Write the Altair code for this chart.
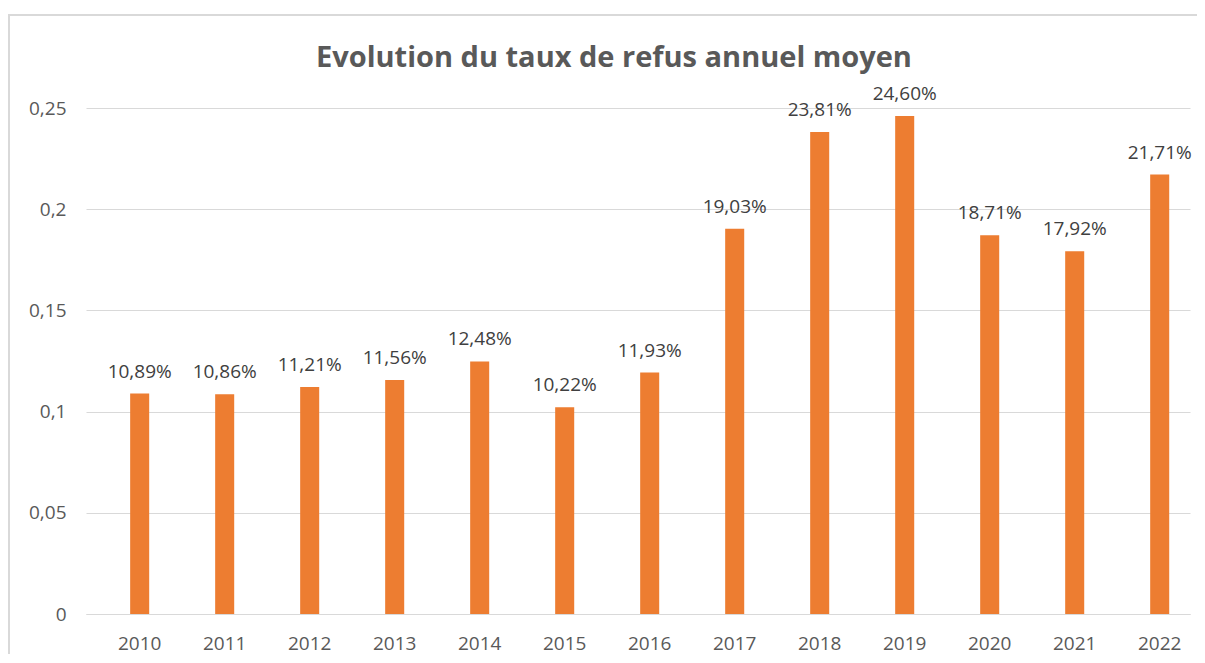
import altair as alt
import pandas as pd

years = ["2010", "2011", "2012", "2013", "2014", "2015", "2016",
         "2017", "2018", "2019", "2020", "2021", "2022"]
taux = [0.1089, 0.1086, 0.1121, 0.1156, 0.1248, 0.1022, 0.1193,
        0.1903, 0.2381, 0.2460, 0.1871, 0.1792, 0.2171]
y_ticks = [0, 0.05, 0.1, 0.15, 0.2, 0.25]

df = pd.DataFrame({"annee": years, "taux": taux})

W, H = 1104, 506
FONT = "Open Sans"

x_enc = alt.X(
    "annee:N",
    sort=years,
    title=None,
    scale=alt.Scale(paddingInner=0.776, paddingOuter=0.382, align=0.68),
    axis=alt.Axis(
        labelAngle=0, ticks=False, domain=True, domainColor="#d9d9d9",
        domainWidth=1, labelPadding=20, labelFontSize=19, labelColor="#595959",
        labelFont=FONT, grid=False,
    ),
)
y_enc = alt.Y(
    "taux:Q",
    title=None,
    scale=alt.Scale(domain=[0, 0.25], nice=False, zero=True),
    axis=alt.Axis(
        values=y_ticks, ticks=False, domain=False, grid=True,
        gridColor="#d9d9d9", gridWidth=1, labelPadding=20,
        labelFontSize=19, labelColor="#595959", labelFont=FONT,
        labelExpr="replace(format(datum.value, '.2~f'), '.', ',')",
    ),
)

base = alt.Chart(df)

bars = base.mark_bar(color="#ED7D31").encode(x=x_enc, y=y_enc)

labels = base.transform_calculate(
    lbl="replace(format(datum.taux * 100, '.2f'), '.', ',') + '%'"
).mark_text(
    baseline="alphabetic", dy=-16, fontSize=19, font=FONT, color="#404040"
).encode(x=alt.X("annee:N", sort=years), y="taux:Q", text="lbl:N")

frame = alt.Chart(pd.DataFrame({"f": [0]})).mark_rect(
    fill=None, stroke="#d9d9d9", strokeWidth=2, clip=False
).encode(
    x=alt.value(-77), x2=alt.value(W + 200),
    y=alt.value(-93), y2=alt.value(H + 200),
)

chart = alt.layer(frame, bars, labels).properties(
    width=W,
    height=H,
    title=alt.TitleParams(
        "Evolution du taux de refus annuel moyen",
        anchor="start", frame="group", dx=230, baseline="alphabetic",
        offset=-82, fontSize=29, font=FONT,
        fontWeight="bold", color="#595959",
    ),
    autosize=alt.AutoSizeParams(type="none"),
    padding={"left": 78, "top": 100, "right": 7, "bottom": 40},
).configure_view(stroke=None)

chart.save("out.html", embed_options={"renderer": "svg", "actions": False})
